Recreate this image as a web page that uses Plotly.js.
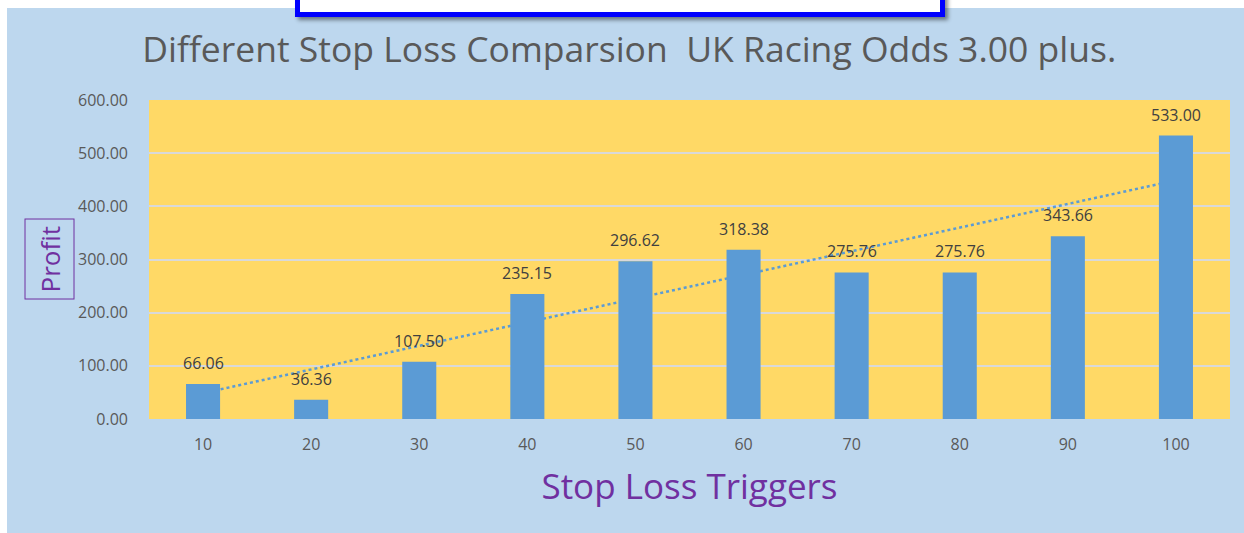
<!DOCTYPE html>
<html>
<head>
<meta charset="utf-8">
<script src="https://cdn.plot.ly/plotly-3.0.1.min.js"></script>
<style>
  html, body { margin: 0; padding: 0; background: #ffffff; width: 1244px; height: 533px; overflow: hidden; }
  #chart { position: absolute; left: 7px; top: 8px; width: 1237px; height: 525px; }
  #topbox { position: absolute; left: 295px; top: -12px; width: 650px; height: 29px; box-sizing: border-box;
            background: #ffffff; border: 5px solid #0000ff; box-shadow: 3px 3px 4px rgba(0,0,0,0.45); z-index: 10; }
</style>
</head>
<body>
<div id="chart"></div>
<div id="topbox"></div>
<script>
// ---- data ----
const stopLossTriggers = ["10", "20", "30", "40", "50", "60", "70", "80", "90", "100"];
const profit = [66.06, 36.36, 107.50, 235.15, 296.62, 318.38, 275.76, 275.76, 343.66, 533.00];
const yTickVals = [0, 100, 200, 300, 400, 500, 600];
const yTickText = yTickVals.map(v => v.toFixed(2));
const gridVals = [100, 200, 300, 400, 500];

// linear trendline (least squares over category index)
const n = profit.length;
const idx = profit.map((_, i) => i + 1);
const mx = idx.reduce((a, b) => a + b, 0) / n;
const my = profit.reduce((a, b) => a + b, 0) / n;
let sxy = 0, sxx = 0;
for (let i = 0; i < n; i++) { sxy += (idx[i] - mx) * (profit[i] - my); sxx += (idx[i] - mx) ** 2; }
const slope = sxy / sxx, intercept = my - slope * mx;
const trend = idx.map(x => intercept + slope * x);

const FONT = "Open Sans, Noto Sans, sans-serif";

const trendTrace = {
  type: "scatter", mode: "lines", x: stopLossTriggers, y: trend,
  xaxis: "x", yaxis: "y",
  line: { color: "#5B9BD5", width: 2.5, dash: "dot" },
  hoverinfo: "skip", showlegend: false
};
const barTrace = {
  type: "bar", x: stopLossTriggers, y: profit,
  xaxis: "x", yaxis: "y2",
  marker: { color: "#5B9BD5" }, width: 0.315,
  showlegend: false
};

const labels = stopLossTriggers.map((c, i) => ({
  x: i, y: profit[i], xref: "x", yref: "y", text: profit[i].toFixed(2),
  showarrow: false, yanchor: "bottom", yshift: 8,
  font: { family: FONT, size: 16, color: "#404040" }
}));
labels.push({
  xref: "paper", yref: "paper", x: -0.0925, y: 0.5, xanchor: "center", yanchor: "middle",
  text: "Profit", textangle: -90, showarrow: false,
  font: { family: FONT, size: 26, color: "#7030A0" },
  bordercolor: "#7030A0", borderwidth: 1, borderpad: 6
});

const layout = {
  width: 1237, height: 525,
  paper_bgcolor: "#BDD7EE", plot_bgcolor: "#FFD966",
  margin: { l: 142, r: 14, t: 92, b: 114 },
  title: {
    text: "Different Stop Loss Comparsion  UK Racing Odds 3.00 plus.",
    x: 0.503, xref: "container", y: 0.92, yref: "container", yanchor: "middle", xanchor: "center",
    font: { family: FONT, size: 35.5, color: "#595959" }
  },
  xaxis: {
    type: "category", range: [-0.5, stopLossTriggers.length - 0.5],
    showgrid: false, zeroline: false, showline: false, ticks: "",
    tickfont: { family: FONT, size: 16, color: "#595959" }, ticklabelstandoff: 14,
    title: { text: "Stop Loss Triggers", standoff: 20, font: { family: FONT, size: 35, color: "#7030A0" } },
    fixedrange: true
  },
  yaxis: {
    range: [0, 600], tickvals: yTickVals, ticktext: yTickText,
    showgrid: false, zeroline: false, showline: false, ticks: "",
    tickfont: { family: FONT, size: 16, color: "#595959" }, ticklabelstandoff: 20,
    fixedrange: true
  },
  yaxis2: {
    overlaying: "y", anchor: "x", side: "left", range: [0, 600], tickvals: gridVals,
    showgrid: true, gridcolor: "#D9D9D9", gridwidth: 2, showticklabels: false,
    zeroline: false, showline: false, ticks: "", fixedrange: true
  },
  annotations: labels
};

Plotly.newPlot("chart", [trendTrace, barTrace], layout, { displayModeBar: false, staticPlot: true });
</script>
</body>
</html>
